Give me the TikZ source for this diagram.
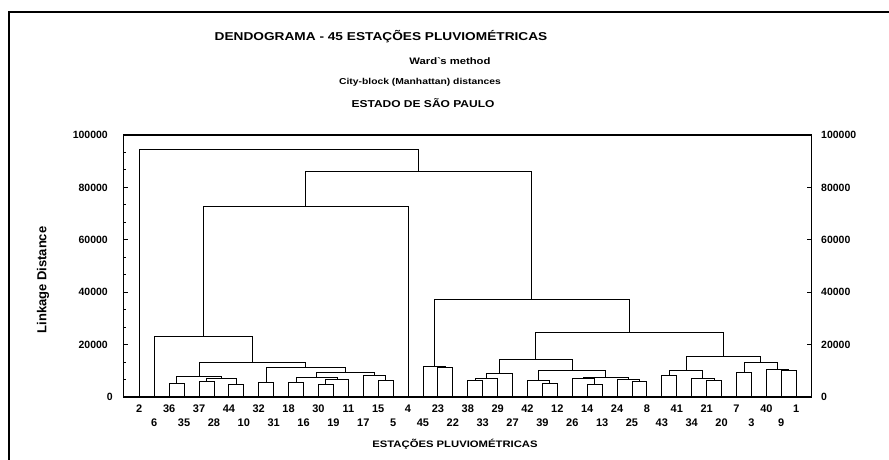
\documentclass[tikz,border=0pt]{standalone}
\usepackage{fontspec}
\setmainfont{Liberation Sans}
\newfontfamily\widefont[FakeStretch=1.2]{Liberation Sans}
\usetikzlibrary{calc}
\tikzset{
  dline/.style={line width=0.9pt, black},
  axisline/.style={line width=1.6pt, black},
  borderline/.style={line width=2pt, black},
  tickline/.style={line width=1pt, black},
  leaflab/.style={font=\bfseries\fontsize{11}{13}\selectfont, inner sep=0pt},
  ylab/.style={font=\bfseries\fontsize{10.5}{12}\selectfont, inner sep=0pt},
  ttl/.style={inner sep=0pt},
}
\newcommand\dmerge[4]{%
  \coordinate (dmA) at ($(#1)!0.5!(#2)$);
  \coordinate (dmB) at (0,#4);
  \coordinate (#3) at (dmA |- dmB);
  \draw[dline] (#1) -- (#1 |- #3) -- (#2 |- #3) -- (#2);
}
\begin{document}
\begin{tikzpicture}[x=1pt,y=-1pt]
\useasboundingbox (0,0) rectangle (889,460);
% outer border
\draw[borderline] (889,12.5) -- (9,12.5) -- (9,460);
% titles
\node[ttl, font=\widefont\bfseries\fontsize{11.4}{13}\selectfont] (t1) at (381,37) {DENDOGRAMA - 45 ESTAÇÕES PLUVIOMÉTRICAS};
\node[ttl, font=\widefont\bfseries\fontsize{9.4}{11}\selectfont] (t2) at (450,61) {Ward\textasciigrave s method};
\node[ttl, font=\widefont\bfseries\fontsize{8.6}{11}\selectfont] (t3) at (420,82) {City-block (Manhattan) distances};
\node[ttl, font=\widefont\bfseries\fontsize{10}{12}\selectfont] (t4) at (423,103) {ESTADO DE SÃO PAULO};
% axis frame
\draw[axisline] (123.5,135) rectangle (811.5,397);
% ticks
\foreach \v in {1,...,14} {
  \pgfmathsetmacro\yy{397-262*\v/15}
  \draw[tickline] (123.5,\yy) -- (126,\yy);
}
\foreach \v in {1,...,4} {
  \pgfmathsetmacro\yy{397-52.4*\v}
  \draw[tickline] (123.5,\yy) -- (128,\yy);
  \draw[tickline] (811.5,\yy) -- (807,\yy);
}
% axis labels
\foreach \val/\yy in {100000/135,80000/187.4,60000/239.8,40000/292.2,20000/344.6} {
  \node[ylab, anchor=east] (yl\val) at (108,\yy) {\val};
  \node[ylab, anchor=west] (yr\val) at (821,\yy) {\val};
}
\node[ylab, anchor=east] (yl0) at (113,397) {0};
\node[ylab, anchor=west] (yr0) at (821,397) {0};
\node[ttl, rotate=90, font=\bfseries\fontsize{13}{15}\selectfont] (ylabel) at (43,280) {Linkage Distance};
\node[ttl, font=\widefont\bfseries\fontsize{9.4}{11}\selectfont] (xlabel) at (455,444) {ESTAÇÕES PLUVIOMÉTRICAS};
% leaves
\coordinate (rowA) at (0,409);
\coordinate (rowB) at (0,423);
\foreach \n [count=\i from 0] in {2,6,36,35,37,28,44,10,32,31,18,16,30,19,11,17,15,5,4,45,23,22,38,33,29,27,42,39,12,26,14,13,24,25,8,43,41,34,21,20,7,3,40,9,1} {
  \coordinate (s\n) at ({139.3+14.93*\i},397);
}
\foreach \n in {2,36,37,44,32,18,30,11,15,4,23,38,29,42,12,14,24,8,41,21,7,40,1} {
  \node[leaflab] (lab\n) at (s\n |- rowA) {\n};
}
\foreach \n in {6,35,28,10,31,16,19,17,5,45,22,33,27,39,26,13,25,43,34,20,3,9} {
  \node[leaflab] (lab\n) at (s\n |- rowB) {\n};
}
% left cluster
\dmerge{s36}{s35}{n1}{383.3}
\dmerge{s37}{s28}{n2}{381.7}
\dmerge{s44}{s10}{n3}{384.3}
\dmerge{n2}{n3}{n4}{378.3}
\dmerge{n1}{n4}{nA}{376.7}
\dmerge{s32}{s31}{n5}{382.3}
\dmerge{s18}{s16}{n6}{382.5}
\dmerge{s30}{s19}{n7}{384}
\dmerge{n7}{s11}{n8}{379.3}
\dmerge{n6}{n8}{n9}{377.3}
\dmerge{s15}{s5}{n10}{380.7}
\dmerge{s17}{n10}{n11}{375}
\dmerge{n9}{n11}{n12}{372.7}
\dmerge{n5}{n12}{nB}{367.3}
\dmerge{nA}{nB}{nC}{362.3}
\dmerge{s6}{nC}{nD}{336}
\dmerge{nD}{s4}{nE}{206.7}
% right cluster
\dmerge{s23}{s22}{r1}{367.7}
\dmerge{s45}{r1}{r2}{366}
\dmerge{s38}{s33}{r3}{380}
\dmerge{r3}{s29}{r4}{378.3}
\dmerge{r4}{s27}{r5}{373.3}
\dmerge{s39}{s12}{r6}{383.3}
\dmerge{s42}{r6}{r7}{380}
\dmerge{s14}{s13}{r8}{384.3}
\dmerge{s26}{r8}{r9}{378.3}
\dmerge{s25}{s8}{r10}{381.7}
\dmerge{s24}{r10}{r11}{379.3}
\dmerge{r9}{r11}{r12}{377.3}
\dmerge{r7}{r12}{r13}{370}
\dmerge{r5}{r13}{r14}{359}
\dmerge{s43}{s41}{r15}{375}
\dmerge{s21}{s20}{r16}{380.7}
\dmerge{s34}{r16}{r17}{378.3}
\dmerge{r15}{r17}{r18}{370}
\dmerge{s7}{s3}{r19}{372.7}
\dmerge{s9}{s1}{r20}{370.7}
\dmerge{s40}{r20}{r21}{369.3}
\dmerge{r19}{r21}{r22}{362.3}
\dmerge{r18}{r22}{r23}{356.7}
\dmerge{r14}{r23}{r24}{332.3}
\dmerge{r2}{r24}{rF}{299.3}
% top
\dmerge{nE}{rF}{nG}{171.7}
\dmerge{s2}{nG}{root}{149}
\end{tikzpicture}
\end{document}
